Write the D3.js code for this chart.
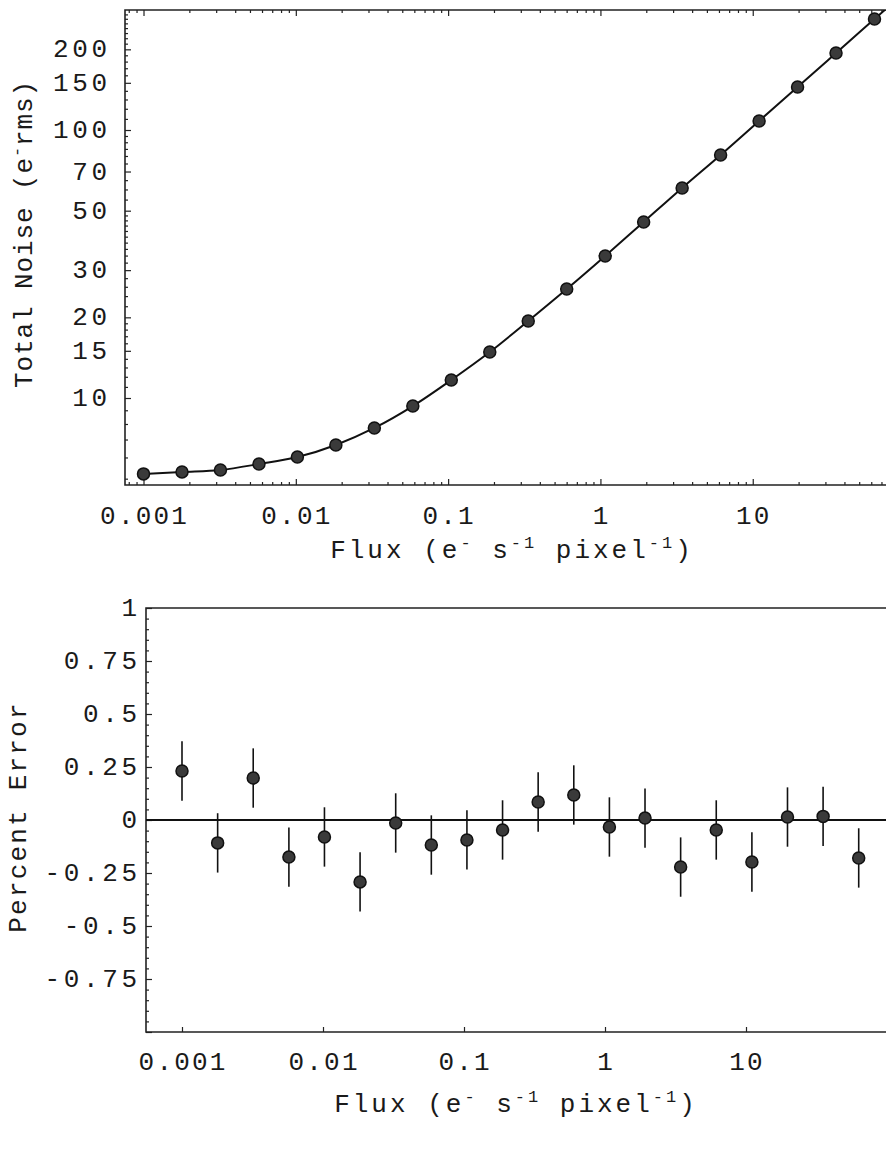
<!DOCTYPE html>
<html><head><meta charset="utf-8">
<script src="https://cdn.jsdelivr.net/npm/d3@7"></script>
<style>
html,body{margin:0;padding:0;background:#fff;}
text{font-family:"Liberation Mono","Courier New",monospace;fill:#1a1a1a;}
</style></head>
<body>
<svg id="c" width="886" height="1161"></svg>
<script>
// ---- data ----
const flux = [0.001, 0.00179, 0.0032, 0.00573, 0.01024, 0.01832, 0.03278, 0.05864, 0.1049, 0.1877,
              0.3357, 0.6006, 1.0745, 1.922, 3.439, 6.152, 11.01, 19.69, 35.22, 63.0];
const noise = [5.21, 5.30, 5.39, 5.67, 6.02, 6.68, 7.73, 9.33, 11.67, 14.84,
               19.38, 25.5, 33.9, 45.4, 60.8, 80.7, 108.1, 144.7, 193.8, 259.6];
// model curve (passes through the points, continues to the plot edge)
const modelFlux = flux.concat([80]);
const modelNoise = noise.concat([292]);
const pctErr = [0.231, -0.108, 0.198, -0.175, -0.080, -0.292, -0.014, -0.118, -0.094, -0.047,
                0.085, 0.118, -0.033, 0.009, -0.222, -0.047, -0.198, 0.014, 0.017, -0.179];
const pctErrBar = [0.14, 0.14, 0.14, 0.14, 0.14, 0.14, 0.14, 0.14, 0.14, 0.14,
                   0.14, 0.14, 0.14, 0.14, 0.14, 0.14, 0.14, 0.14, 0.14, 0.14];
const xTickVals = [0.001, 0.01, 0.1, 1, 10];
const xTickLabels = ["0.001", "0.01", "0.1", "1", "10"];
const yTopTickVals = [10, 15, 20, 30, 50, 70, 100, 150, 200];
const yTopTickLabels = ["10", "15", "20", "30", "50", "70", "100", "150", "200"];
const yBotTickVals = [1, 0.75, 0.5, 0.25, 0, -0.25, -0.5, -0.75];
const yBotTickLabels = ["1", "0.75", "0.5", "0.25", "0", "-0.25", "-0.5", "-0.75"];

const svg = d3.select("#c");
const FS = 26, LS = 2.2, YLS = 3.6, TLS = 3.0;

// ---------- TOP PANEL ----------
const T = {l:125, r:895, t:10, b:485};
const xT = d3.scaleLog().domain([Math.pow(10,-3.1215), Math.pow(10,1.934)]).range([T.l, T.r]);
const yT = d3.scaleLog().domain([Math.pow(10,0.6754), Math.pow(10,2.4478)]).range([T.b, T.t]);

const gT = svg.append("g");
// minor x ticks
const xMinor = [];
for (let e = -4; e <= 2; e++) for (let m = 2; m <= 9; m++) xMinor.push(m * Math.pow(10, e));
const xMinT = xMinor.filter(v => xT(v) > T.l && xT(v) < T.r);
const xMajT = [0.001, 0.01, 0.1, 1, 10];

gT.append("g").attr("transform", `translate(0,${T.b})`)
  .call(d3.axisTop(xT).tickValues(xMinT).tickSize(3).tickFormat(""))
  .call(g => g.select(".domain").remove());
gT.append("g").attr("transform", `translate(0,${T.b})`)
  .call(d3.axisTop(xT).tickValues(xMajT).tickSize(6).tickFormat(""))
  .call(g => g.select(".domain").remove());
gT.append("g").attr("transform", `translate(0,${T.t})`)
  .call(d3.axisBottom(xT).tickValues(xMinT).tickSize(3).tickFormat(""))
  .call(g => g.select(".domain").remove());
gT.append("g").attr("transform", `translate(0,${T.t})`)
  .call(d3.axisBottom(xT).tickValues(xMajT).tickSize(6).tickFormat(""))
  .call(g => g.select(".domain").remove());

// y ticks
const yMin = [];
for (let v = 5; v < 20; v += 1) yMin.push(v);
for (let v = 22; v < 50; v += 2) yMin.push(v);
for (let v = 55; v < 100; v += 5) yMin.push(v);
for (let v = 110; v < 280; v += 10) yMin.push(v);
const yMinT = yMin.filter(v => yTopTickVals.indexOf(v) < 0 && yT(v) < T.b && yT(v) > T.t);
gT.append("g").attr("transform", `translate(${T.l},0)`)
  .call(d3.axisRight(yT).tickValues(yMinT).tickSize(3).tickFormat(""))
  .call(g => g.select(".domain").remove());
gT.append("g").attr("transform", `translate(${T.l},0)`)
  .call(d3.axisRight(yT).tickValues(yTopTickVals).tickSize(6).tickFormat(""))
  .call(g => g.select(".domain").remove());
gT.selectAll(".tick line").attr("stroke", "#222").attr("stroke-width", 1.2);

// frame
gT.append("path").attr("d", `M${T.r},${T.t}H${T.l}V${T.b}H${T.r}`)
  .attr("fill", "none").attr("stroke", "#222").attr("stroke-width", 1.6);

// tick labels
gT.selectAll("text.xl").data(xTickVals).join("text")
  .attr("x", d => xT(d) + LS/2).attr("y", 524).attr("text-anchor", "middle")
  .attr("font-size", FS).attr("letter-spacing", LS)
  .text((d, i) => xTickLabels[i]);
gT.selectAll("text.yl").data(yTopTickVals).join("text")
  .attr("x", 107 + YLS).attr("y", d => yT(d) + 8).attr("text-anchor", "end")
  .attr("font-size", FS).attr("letter-spacing", YLS)
  .text((d, i) => yTopTickLabels[i]);

// axis titles
function fluxLabel(g, cx, y) {
  const t = g.append("text").attr("x", cx).attr("y", y).attr("text-anchor", "middle")
    .attr("font-size", FS).attr("letter-spacing", TLS);
  t.append("tspan").text("Flux (e");
  t.append("tspan").attr("dy", -10).attr("font-size", 17).text("-");
  t.append("tspan").attr("dy", 10).text(" s");
  t.append("tspan").attr("dy", -10).attr("font-size", 17).text("-1");
  t.append("tspan").attr("dy", 10).text(" pixel");
  t.append("tspan").attr("dy", -10).attr("font-size", 17).text("-1");
  t.append("tspan").attr("dy", 10).text(")");
}
fluxLabel(gT, 512, 558);

const yt = gT.append("text").attr("transform", "translate(32,234) rotate(-90)")
  .attr("text-anchor", "middle").attr("font-size", FS).attr("letter-spacing", 0.9);
yt.append("tspan").text("Total Noise (e");
yt.append("tspan").attr("dy", -10).attr("font-size", 17).text("-");
yt.append("tspan").attr("dy", 10).text("rms)");

// curve + points
const clipT = svg.append("clipPath").attr("id", "clipT").append("rect")
  .attr("x", T.l).attr("y", T.t).attr("width", T.r - T.l).attr("height", T.b - T.t);
const line = d3.line().x(d => xT(d[0])).y(d => yT(d[1])).curve(d3.curveMonotoneX);
gT.append("path").datum(modelFlux.map((f, i) => [f, modelNoise[i]]))
  .attr("clip-path", "url(#clipT)")
  .attr("d", line).attr("fill", "none").attr("stroke", "#111").attr("stroke-width", 2);
gT.selectAll("circle").data(flux.map((f, i) => [f, noise[i]])).join("circle")
  .attr("cx", d => xT(d[0])).attr("cy", d => yT(d[1])).attr("r", 6)
  .attr("fill", "#3a3a3a").attr("stroke", "#111").attr("stroke-width", 1.5);

// ---------- BOTTOM PANEL ----------
const B = {l:146, r:895, t:608, b:1032};
const xB = d3.scaleLog().domain([Math.pow(10,-3.2553), Math.pow(10,2.0567)]).range([B.l, B.r]);
const yB = d3.scaleLinear().domain([-1, 1]).range([B.b, B.t]);
const gB = svg.append("g");

gB.append("g").attr("transform", `translate(0,${B.b})`)
  .call(d3.axisTop(xB).tickValues(xTickVals).tickSize(5).tickFormat(""))
  .call(g => g.select(".domain").remove());
const yBMin = d3.range(-19, 20).map(k => k * 0.05).filter(v => Math.abs(Math.round(v / 0.25) * 0.25 - v) > 1e-6);
gB.append("g").attr("transform", `translate(${B.l},0)`)
  .call(d3.axisRight(yB).tickValues(yBMin).tickSize(3).tickFormat(""))
  .call(g => g.select(".domain").remove());
gB.append("g").attr("transform", `translate(${B.l},0)`)
  .call(d3.axisRight(yB).tickValues(yBotTickVals.concat([-1])).tickSize(6).tickFormat(""))
  .call(g => g.select(".domain").remove());
gB.selectAll(".tick line").attr("stroke", "#222").attr("stroke-width", 1.2);

gB.append("path").attr("d", `M${B.r},${B.t}H${B.l}V${B.b}H${B.r}`)
  .attr("fill", "none").attr("stroke", "#222").attr("stroke-width", 1.6);
// zero line
gB.append("line").attr("x1", B.l).attr("x2", B.r).attr("y1", yB(0)).attr("y2", yB(0))
  .attr("stroke", "#111").attr("stroke-width", 1.8);

gB.selectAll("text.xl").data(xTickVals).join("text")
  .attr("x", d => xB(d) + LS/2).attr("y", 1070).attr("text-anchor", "middle")
  .attr("font-size", FS).attr("letter-spacing", LS)
  .text((d, i) => xTickLabels[i]);
gB.selectAll("text.yl").data(yBotTickVals).join("text")
  .attr("x", 137 + YLS).attr("y", d => yB(d) + 8).attr("text-anchor", "end")
  .attr("font-size", FS).attr("letter-spacing", YLS)
  .text((d, i) => yBotTickLabels[i]);

fluxLabel(gB, 516, 1112);
gB.append("text").attr("transform", "translate(26,817) rotate(-90)")
  .attr("text-anchor", "middle").attr("font-size", FS).attr("letter-spacing", LS)
  .text("Percent Error");

const pts = flux.map((f, i) => ({f, v: pctErr[i], e: pctErrBar[i]}));
gB.selectAll("line.eb").data(pts).join("line").attr("class", "eb")
  .attr("x1", d => xB(d.f)).attr("x2", d => xB(d.f))
  .attr("y1", d => yB(d.v + d.e)).attr("y2", d => yB(d.v - d.e))
  .attr("stroke", "#111").attr("stroke-width", 1.6);
gB.selectAll("circle").data(pts).join("circle")
  .attr("cx", d => xB(d.f)).attr("cy", d => yB(d.v)).attr("r", 6)
  .attr("fill", "#3a3a3a").attr("stroke", "#111").attr("stroke-width", 1.5);
</script>
</body></html>
